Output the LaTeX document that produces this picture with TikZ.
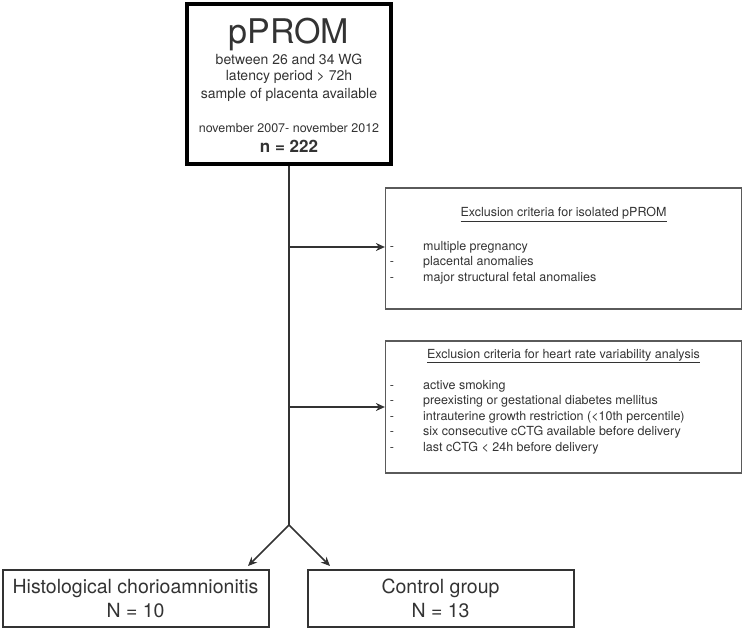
\documentclass[tikz,border=0pt]{standalone}
\usepackage{fontspec}
\setmainfont{TeX Gyre Heros}
\usetikzlibrary{calc}
\usetikzlibrary{arrows.meta}

\definecolor{inkgray}{HTML}{333333}
\definecolor{boxgray}{HTML}{5A5A5A}

\tikzset{
    mainbox/.style={draw=black,line width=4.5pt,minimum width=204pt,minimum height=160pt,inner sep=0pt},
    exclbox/.style={draw=boxgray,line width=1.2pt,minimum width=356pt,inner sep=0pt},
    groupbox/.style={draw=inkgray,line width=2pt,minimum width=266pt,minimum height=57pt,inner sep=0pt},
    txt/.style={text=inkgray,inner sep=0pt,anchor=base},
    flow/.style={line width=1.5pt,draw=inkgray},
    flowarrow/.style={flow,-{Stealth[length=9pt,width=8pt]}}
}

\begin{document}
\begin{tikzpicture}[x=1pt,y=-1pt]
    \useasboundingbox (0,0) rectangle (743,628);

    % Boxes
    \node[mainbox] (pprom) at (289,84) {};
    \node[exclbox,minimum height=121pt] (excl1) at (563.5,248.5) {};
    \node[exclbox,minimum height=132pt] (excl2) at (563.5,407) {};
    \node[groupbox] (histo) at (135.5,598) {};
    \node[groupbox] (control) at (440.5,598) {};

    % Text of the main box
    \node[txt,font=\fontsize{34}{34}\selectfont] (ptitle) at (289,43.5) {pPROM};
    \node[txt,font=\fontsize{14}{16}\selectfont] (p1) at (289,65) {between 26 and 34 WG};
    \node[txt,font=\fontsize{14}{16}\selectfont] (p2) at (289,81) {latency period > 72h};
    \node[txt,font=\fontsize{14}{16}\selectfont] (p3) at (289,98.5) {sample of placenta available};
    \node[txt,font=\fontsize{12.5}{14}\selectfont] (p4) at (289,133) {november 2007- november 2012};
    \node[txt,font=\fontsize{17}{18}\bfseries\selectfont] (pn) at (289,153) {n = 222};

    % Exclusion criteria
    \node[txt,font=\fontsize{12.5}{14}\selectfont] (t1) at (563.5,217) {\underline{Exclusion criteria for isolated pPROM}};
    \foreach \item [count=\i] in {multiple pregnancy,placental anomalies,major structural fetal anomalies}{
        \node[txt,font=\fontsize{12.5}{14}\selectfont] (d1\i) at (392,{234.5+15.7*\i}) {-};
        \node[txt,anchor=base west,font=\fontsize{12.5}{14}\selectfont] (e1\i) at (423,{234.5+15.7*\i}) {\item};
    }

    \node[txt,font=\fontsize{12.5}{14}\selectfont] (t2) at (563.5,358) {\underline{Exclusion criteria for heart rate variability analysis}};
    \foreach \item [count=\i] in {active smoking,preexisting or gestational diabetes mellitus,intrauterine growth restriction (<10th percentile),six consecutive cCTG available before delivery,last cCTG < 24h before delivery}{
        \node[txt,font=\fontsize{12.5}{14}\selectfont] (d2\i) at (392,{373.5+15.5*\i}) {-};
        \node[txt,anchor=base west,font=\fontsize{12.5}{14}\selectfont] (e2\i) at (423,{373.5+15.5*\i}) {\item};
    }

    % Groups
    \node[txt,font=\fontsize{19.5}{22}\selectfont] (h1) at (135.5,593) {Histological chorioamnionitis};
    \node[txt,font=\fontsize{19.5}{22}\selectfont] (h2) at (135.5,617) {N = 10};
    \node[txt,font=\fontsize{19.5}{22}\selectfont] (c1) at (440.5,593) {Control group};
    \node[txt,font=\fontsize{19.5}{22}\selectfont] (c2) at (440.5,617) {N = 13};

    % Connectors
    \coordinate (split) at (289,525);
    \coordinate (b1) at (289,247);
    \coordinate (b2) at (289,407);
    \coordinate (histoin) at (248,566);
    \coordinate (controlin) at (330,566);
    \draw[flow] (pprom.south) -- (split);
    \draw[flowarrow] (b1) -- (b1 -| excl1.west);
    \draw[flowarrow] (b2) -- (b2 -| excl2.west);
    \draw[flowarrow] (split) -- (histoin);
    \draw[flowarrow] (split) -- (controlin);

\end{tikzpicture}
\end{document}
